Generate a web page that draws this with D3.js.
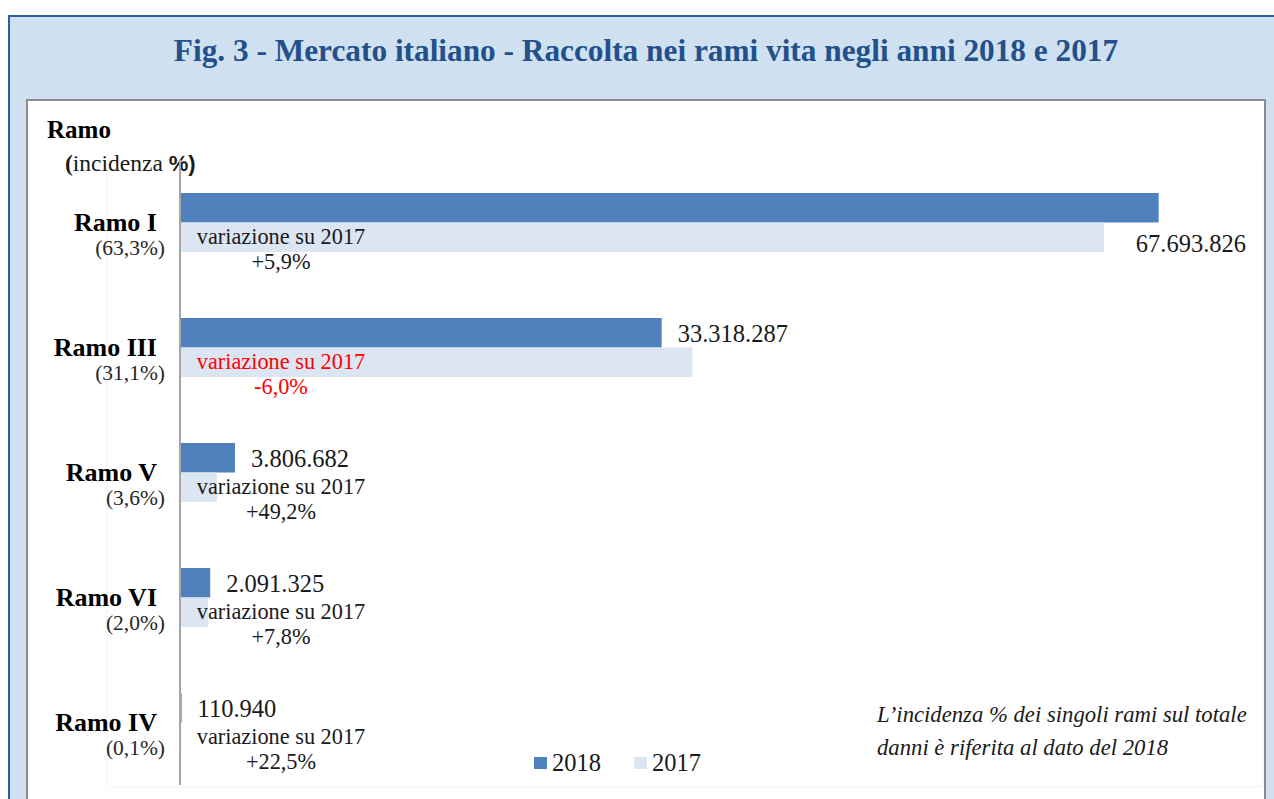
<!doctype html>
<html lang="it">
  <head>
    <meta charset="utf-8">
    <script src="https://d3js.org/d3.v7.min.js"></script>
    <title>Raccolta rami vita 2018 e 2017</title>
    <style>
      body { margin: 0; background: #fff; }
      svg { display: block; }
      text { font-family: "Liberation Serif", "DejaVu Serif", serif; }
    </style>
  </head>
  <body>
    <div id="chart"></div>
    <script type="text/javascript">

      // Dati: raccolta rami vita (migliaia di euro)
      const categories = ["Ramo I", "Ramo III", "Ramo V", "Ramo VI", "Ramo IV"];
      const incidence  = ["(63,3%)", "(31,1%)", "(3,6%)", "(2,0%)", "(0,1%)"];
      const values2018 = [67693826, 33318287, 3806682, 2091325, 110940];
      const values2017 = [63922000, 35445000, 2551000, 1940000, 90560];
      const variations = ["+5,9%", "-6,0%", "+49,2%", "+7,8%", "+22,5%"];
      const years = ["2018", "2017"];
      const title = "Fig. 3 - Mercato italiano - Raccolta nei rami vita negli anni 2018 e 2017";
      const note = ["L\u2019incidenza % dei singoli rami sul totale", "danni è riferita al dato del 2018"];

      const W = 1274, H = 799;
      const colors = { "2018": "#4f81bd", "2017": "#dce6f2" };

      const itFormat = d3.formatLocale({ decimal: ",", thousands: ".", grouping: [3], currency: ["€", ""] }).format(",d");

      const rows = categories.map((c, i) => ({
        cat: c, inc: incidence[i], v2018: values2018[i], v2017: values2017[i], varz: variations[i]
      }));

      const svg = d3.select("#chart").append("svg")
        .attr("width", W).attr("height", H);

      // riquadro esterno azzurro
      svg.append("rect")
        .attr("x", 9).attr("y", 16).attr("width", W).attr("height", H)
        .attr("fill", "#cfe1f0").attr("stroke", "#2e5e9c").attr("stroke-width", 2);

      svg.append("text")
        .attr("x", 646).attr("y", 61)
        .attr("text-anchor", "middle")
        .attr("font-size", 31.3).attr("font-weight", "bold")
        .attr("fill", "#23508a")
        .text(title);

      // pannello bianco
      svg.append("rect")
        .attr("x", 27).attr("y", 100).attr("width", 1238).attr("height", H)
        .attr("fill", "#fff").attr("stroke", "#8c8c8c").attr("stroke-width", 2);

      // area del grafico (bordo molto chiaro)
      svg.append("rect")
        .attr("x", 107).attr("y", 160).attr("width", 1156).attr("height", 627)
        .attr("fill", "none").attr("stroke", "#f5f5f5").attr("stroke-width", 1);

      // scale
      const x = d3.scaleLinear().domain([0, 70000000]).range([180, 1192]);
      const y = d3.scaleBand().domain(categories).range([160, 785])
        .paddingInner(0.528).paddingOuter(0.264);
      const y1 = d3.scaleBand().domain(years).range([0, y.bandwidth()]);

      // intestazione asse
      svg.append("text")
        .attr("x", 47).attr("y", 138)
        .attr("font-size", 25).attr("font-weight", "bold").attr("fill", "#000")
        .text("Ramo");
      const sub = svg.append("text")
        .attr("x", 65).attr("y", 171)
        .attr("font-size", 23.5).attr("fill", "#1a1a1a");
      sub.append("tspan").attr("font-weight", "bold").text("(");
      sub.append("tspan").text("incidenza ");
      sub.append("tspan").attr("font-weight", "bold")
        .style("font-family", "'Liberation Sans', Arial, sans-serif").attr("font-size", 22).text("%)");

      // barre
      const groups = svg.append("g").selectAll("g")
        .data(rows).join("g")
        .attr("transform", d => `translate(0,${y(d.cat)})`);

      groups.selectAll("rect")
        .data(d => years.map(k => ({ key: k, value: d["v" + k] })))
        .join("rect")
        .attr("x", x(0))
        .attr("y", d => y1(d.key))
        .attr("width", d => x(d.value) - x(0))
        .attr("height", y1.bandwidth())
        .attr("fill", d => colors[d.key]);

      // asse verticale
      svg.append("line")
        .attr("x1", x(0)).attr("x2", x(0))
        .attr("y1", 160).attr("y2", 785)
        .attr("stroke", "#a6a6a6").attr("stroke-width", 2);

      // etichette categorie
      const catLabels = svg.append("g").selectAll("g")
        .data(rows).join("g")
        .attr("transform", d => `translate(0,${y(d.cat) + y.bandwidth() / 2})`);
      catLabels.append("text")
        .attr("x", 157).attr("y", 8)
        .attr("text-anchor", "end")
        .attr("font-size", 26).attr("font-weight", "bold").attr("fill", "#000")
        .text(d => d.cat);
      catLabels.append("text")
        .attr("x", 165).attr("y", 32)
        .attr("text-anchor", "end")
        .attr("font-size", 21.5).attr("fill", "#262626")
        .text(d => d.inc);

      // valori 2018
      svg.append("g").selectAll("text")
        .data(rows).join("text")
        .attr("font-size", 24.5).attr("fill", "#1a1a1a")
        .text(d => itFormat(d.v2018))
        .each(function (d) {
          const w = this.getComputedTextLength();
          const bx = x(d.v2018) + 16;
          const el = d3.select(this);
          if (bx + w > 1250) {
            el.attr("x", 1246).attr("text-anchor", "end")
              .attr("y", y(d.cat) + y.bandwidth());
          } else {
            el.attr("x", bx).attr("y", y(d.cat) + y1("2017") - 6);
          }
        });

      // variazione su 2017
      const varLabels = svg.append("g").selectAll("text")
        .data(rows).join("text")
        .attr("text-anchor", "middle")
        .attr("font-size", 22.3)
        .attr("fill", d => d.varz.startsWith("-") ? "#ff0000" : "#1a1a1a");
      varLabels.append("tspan")
        .attr("x", 281)
        .attr("y", d => y(d.cat) + y.bandwidth() / 2 + 21)
        .text("variazione su 2017");
      varLabels.append("tspan")
        .attr("x", 281)
        .attr("y", d => y(d.cat) + y.bandwidth() / 2 + 46)
        .text(d => d.varz);

      // legenda
      const legend = svg.append("g").selectAll("g")
        .data(years).join("g")
        .attr("transform", (d, i) => `translate(${534 + i * 100},757)`);
      legend.append("rect")
        .attr("width", 13).attr("height", 12)
        .attr("fill", d => colors[d]);
      legend.append("text")
        .attr("x", 18).attr("y", 14)
        .attr("font-size", 24.5).attr("fill", "#1a1a1a")
        .text(d => d);

      // nota
      svg.append("g").selectAll("text")
        .data(note).join("text")
        .attr("x", 877)
        .attr("y", (d, i) => 722 + i * 33)
        .attr("font-size", 22.7).attr("font-style", "italic").attr("fill", "#1a1a1a")
        .text(d => d);
    </script>
  </body>
</html>
